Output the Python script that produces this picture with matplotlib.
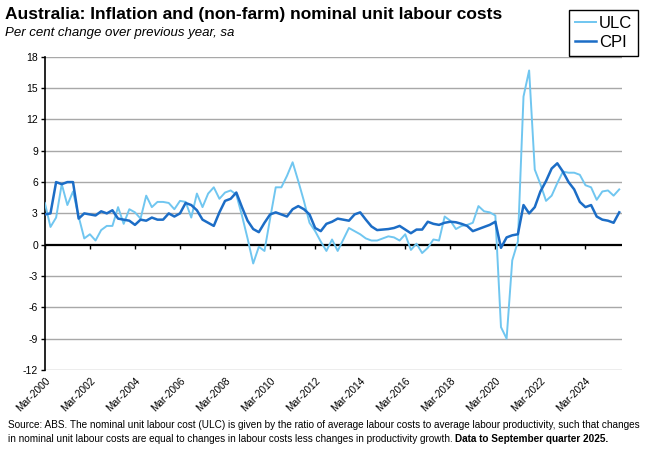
import numpy as np
import matplotlib
matplotlib.use('Agg')
import matplotlib.pyplot as plt
import pandas as pd

plt.rcParams['font.family'] = ['Liberation Sans Narrow', 'Liberation Sans', 'DejaVu Sans']

# quarterly, Mar-2000 to Sep-2025
quarters = pd.period_range('2000Q1', '2025Q3', freq='Q')

ulc = [4.0, 1.7, 2.6, 5.8, 3.8, 5.1, 2.7, 0.6, 1.0, 0.4,
       1.4, 1.8, 1.8, 3.6, 2.0, 3.4, 3.1, 2.5, 4.7, 3.6,
       4.1, 4.1, 4.0, 3.4, 4.2, 4.1, 2.6, 4.9, 3.6, 4.9,
       5.5, 4.4, 5.0, 5.2, 4.8, 2.8, 0.6, -1.8, -0.2, -0.6,
       2.5, 5.5, 5.5, 6.6, 7.9, 6.1, 4.2, 2.1, 1.3, 0.3,
       -0.6, 0.5, -0.6, 0.5, 1.6, 1.3, 1.0, 0.6, 0.4, 0.4,
       0.6, 0.8, 0.7, 0.4, 1.0, -0.5, 0.1, -0.8, -0.3, 0.5,
       0.4, 2.7, 2.3, 1.5, 1.8, 1.9, 2.1, 3.7, 3.2, 3.1,
       2.8, -7.9, -9.0, -1.5, 0.3, 14.2, 16.7, 7.2, 5.8, 4.2,
       4.7, 5.9, 7.0, 6.9, 6.9, 6.7, 5.7, 5.5, 4.3, 5.1,
       5.2, 4.7, 5.3]

cpi = [2.9, 3.0, 6.0, 5.8, 6.0, 6.0, 2.5, 3.0, 2.9, 2.8,
       3.2, 3.0, 3.3, 2.5, 2.4, 2.3, 1.9, 2.4, 2.3, 2.6,
       2.4, 2.4, 3.0, 2.7, 3.0, 4.0, 3.8, 3.3, 2.4, 2.1,
       1.8, 3.1, 4.2, 4.4, 5.0, 3.6, 2.3, 1.5, 1.2, 2.1,
       2.9, 3.1, 2.9, 2.7, 3.4, 3.7, 3.4, 2.9, 1.6, 1.3,
       2.0, 2.2, 2.5, 2.4, 2.3, 2.9, 3.1, 2.4, 1.75, 1.4,
       1.45, 1.5, 1.6, 1.8, 1.45, 1.1, 1.45, 1.45, 2.2, 2.0,
       1.9, 2.1, 2.2, 2.15, 2.0, 1.8, 1.3, 1.5, 1.7, 1.9,
       2.2, -0.3, 0.7, 0.9, 1.0, 3.8, 3.0, 3.6, 5.1, 6.1,
       7.3, 7.8, 7.0, 6.0, 5.3, 4.1, 3.6, 3.8, 2.7, 2.4,
       2.3, 2.1, 3.1]

yticks = [-12, -9, -6, -3, 0, 3, 6, 9, 12, 15, 18]

x = np.arange(len(quarters))
labels = ['Mar-' + str(p.year) for p in quarters]
tick_pos = x[::8]
tick_lab = labels[::8]

light = '#70c6f0'
dark = '#1c6dc6'

fig = plt.figure(figsize=(6.5, 4.55), dpi=100)
ax = fig.add_axes([0.069, 0.187, 0.888, 0.688])

for v in yticks:
    if v != 0:
        ax.axhline(v, color='#a8a8a8', lw=1.0, zorder=1)
ax.axhline(0, color='black', lw=1.6, zorder=2)
ax.vlines(tick_pos, -0.4, 0, color='black', lw=1.0, zorder=2)

ax.plot(x, ulc, color=light, lw=1.4, label='ULC', zorder=3)
ax.plot(x, cpi, color=dark, lw=1.8, label='CPI', zorder=4)

ax.set_xlim(0, len(x) - 0.5)
ax.set_ylim(-12, 18)
ax.set_yticks(yticks)
ax.set_yticklabels([str(v) for v in yticks], fontsize=7.5)
ax.tick_params(axis='y', length=3, width=1, pad=2)

ax.set_xticks(tick_pos)
ax.set_xticklabels(tick_lab, rotation=45, ha='right', rotation_mode='anchor', fontsize=7.3)
ax.tick_params(axis='x', length=0, pad=4)

for s in ['top', 'right', 'bottom']:
    ax.spines[s].set_visible(False)
ax.spines['left'].set_linewidth(1.2)

leg = fig.legend(loc='upper right', bbox_to_anchor=(0.994, 0.996), fontsize=12,
                 handlelength=1.3, handletextpad=0.15, fancybox=False,
                 edgecolor='black', framealpha=1, borderpad=0.35, labelspacing=0.25)
leg.get_frame().set_linewidth(1.0)

fig.text(0.008, 0.968, 'Australia: Inflation and (non-farm) nominal unit labour costs',
         fontsize=12.5, fontweight='bold', va='center')
fig.text(0.008, 0.928, 'Per cent change over previous year, sa', fontsize=9.5,
         style='italic', va='center')

fig.text(0.012, 0.066, 'Source: ABS. The nominal unit labour cost (ULC) is given by the ratio of average labour costs to average labour productivity, such that changes',
         fontsize=7.2, va='center')
t2 = fig.text(0.012, 0.036, 'in nominal unit labour costs are equal to changes in labour costs less changes in productivity growth. ',
              fontsize=7.2, va='center')
r = fig.canvas.get_renderer()
bb = t2.get_window_extent(renderer=r)
fig.text(bb.x1 / fig.bbox.width, 0.036, 'Data to September quarter 2025.',
         fontsize=7.2, fontweight='bold', va='center')

fig.savefig('out.png', dpi=100)
